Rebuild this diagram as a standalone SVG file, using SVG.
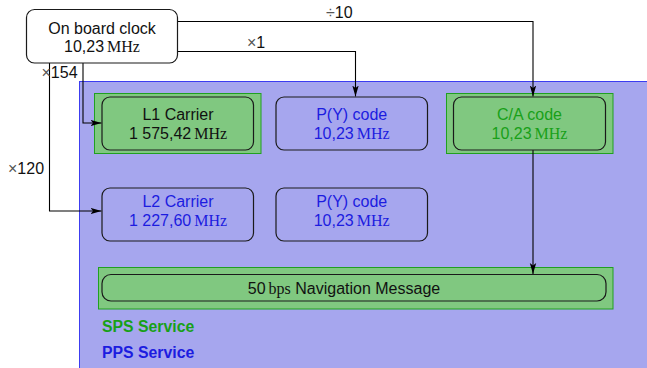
<svg xmlns="http://www.w3.org/2000/svg" width="647" height="368" viewBox="0 0 647 368">
  <style>
    .lbl { font-family: "Liberation Sans", Arial, sans-serif; font-size: 16px; text-anchor: middle; }
    .unit { font-family: "Liberation Serif", "Times New Roman", serif; }
    .box { stroke: #1a1a1a; stroke-width: 1.2; }
    .grp { fill: #80c880; stroke: #20a020; stroke-width: 1; }
    .wire { fill: none; stroke: #000; stroke-width: 1.1; }
    .blue { fill: #1c1ce0; }
    .green { fill: #18a018; }
    .black { fill: #111; }
    .op { font-family: "Liberation Sans", Arial, sans-serif; font-size: 16px; fill: #111; }
    .sym { fill: #555; }
    .svc { font-family: "Liberation Sans", Arial, sans-serif; font-size: 15.8px; font-weight: bold; }
  </style>
  <defs>
    <marker id="arr" markerUnits="userSpaceOnUse" markerWidth="12" markerHeight="8" refX="11" refY="4" orient="auto">
      <path d="M0,0.8 L11,4 L0,7.2 L2.5,4 z" fill="#000"/>
    </marker>
  </defs>

  <!-- white page and the signal-domain panel -->
  <rect x="0" y="0" width="647" height="368" fill="#fff"/>
  <rect id="panel" x="79.5" y="81.5" width="580" height="300" fill="#a6a6ee" stroke="#3c3cf0" stroke-width="1"/>

  <!-- service groupings (green = SPS) -->
  <rect class="grp" x="94.5" y="93.5" width="166.5" height="60"/>
  <rect class="grp" x="446.5" y="93.5" width="166.5" height="60"/>
  <rect class="grp" x="98.5" y="267.5" width="514.5" height="41.5"/>

  <!-- connectors -->
  <g id="connectors">
    <path class="wire" d="M177.5,21.5 H533 V96.5" marker-end="url(#arr)"/>
    <path class="wire" d="M177.5,51.5 H355.5 V96.5" marker-end="url(#arr)"/>
    <path class="wire" d="M83,63 V123 H101.5" marker-end="url(#arr)"/>
    <path class="wire" d="M49.5,63 V211 H101.5" marker-end="url(#arr)"/>
    <path class="wire" d="M533,150 V274" marker-end="url(#arr)"/>
    <text class="op" x="326" y="18"><tspan class="sym">÷</tspan>10</text>
    <text class="op" x="247" y="48"><tspan class="sym">×</tspan>1</text>
    <text class="op" x="41.5" y="77.5"><tspan class="sym">×</tspan>154</text>
    <text class="op" x="8" y="173.5"><tspan class="sym">×</tspan>120</text>
  </g>

  <g id="clock">
    <rect class="box" x="26.5" y="9.5" width="151" height="53.5" rx="8" fill="#fff"/>
    <text class="lbl black" x="102" y="33.5">On board clock</text>
    <text class="lbl black" x="102" y="52">10,23<tspan class="unit" dx="3">MHz</tspan></text>
  </g>

  <g id="l1-carrier">
    <rect class="box" x="102" y="97" width="151.5" height="53" rx="8" fill="#80c880"/>
    <text class="lbl black" x="178" y="120">L1 Carrier</text>
    <text class="lbl black" x="178" y="138.5">1 575,42<tspan class="unit" dx="3">MHz</tspan></text>
  </g>

  <g id="py-code-l1">
    <rect class="box" x="276" y="97" width="151.5" height="53" rx="8" fill="#a6a6ee"/>
    <text class="lbl blue" x="351.7" y="120">P(Y) code</text>
    <text class="lbl blue" x="351.7" y="138.5">10,23<tspan class="unit" dx="3">MHz</tspan></text>
  </g>

  <g id="ca-code">
    <rect class="box" x="453.5" y="97" width="152" height="53" rx="8" fill="#80c880"/>
    <text class="lbl green" x="529.5" y="120">C/A code</text>
    <text class="lbl green" x="529.5" y="138.5">10,23<tspan class="unit" dx="3">MHz</tspan></text>
  </g>

  <g id="l2-carrier">
    <rect class="box" x="102" y="188" width="151.5" height="53" rx="8" fill="#a6a6ee"/>
    <text class="lbl blue" x="178" y="207">L2 Carrier</text>
    <text class="lbl blue" x="178" y="225.5">1 227,60<tspan class="unit" dx="3">MHz</tspan></text>
  </g>

  <g id="py-code-l2">
    <rect class="box" x="276" y="188" width="151.5" height="53" rx="8" fill="#a6a6ee"/>
    <text class="lbl blue" x="351.7" y="207">P(Y) code</text>
    <text class="lbl blue" x="351.7" y="225.5">10,23<tspan class="unit" dx="3">MHz</tspan></text>
  </g>

  <g id="nav-message">
    <rect class="box" x="102" y="274.5" width="504" height="26.5" rx="9" fill="#80c880"/>
    <text class="lbl black" x="344" y="294">50<tspan class="unit" dx="3">bps</tspan> Navigation Message</text>
  </g>

  <g id="legend">
    <text class="svc green" x="102" y="331.5">SPS Service</text>
    <text class="svc blue" x="102" y="357.5">PPS Service</text>
  </g>
</svg>
